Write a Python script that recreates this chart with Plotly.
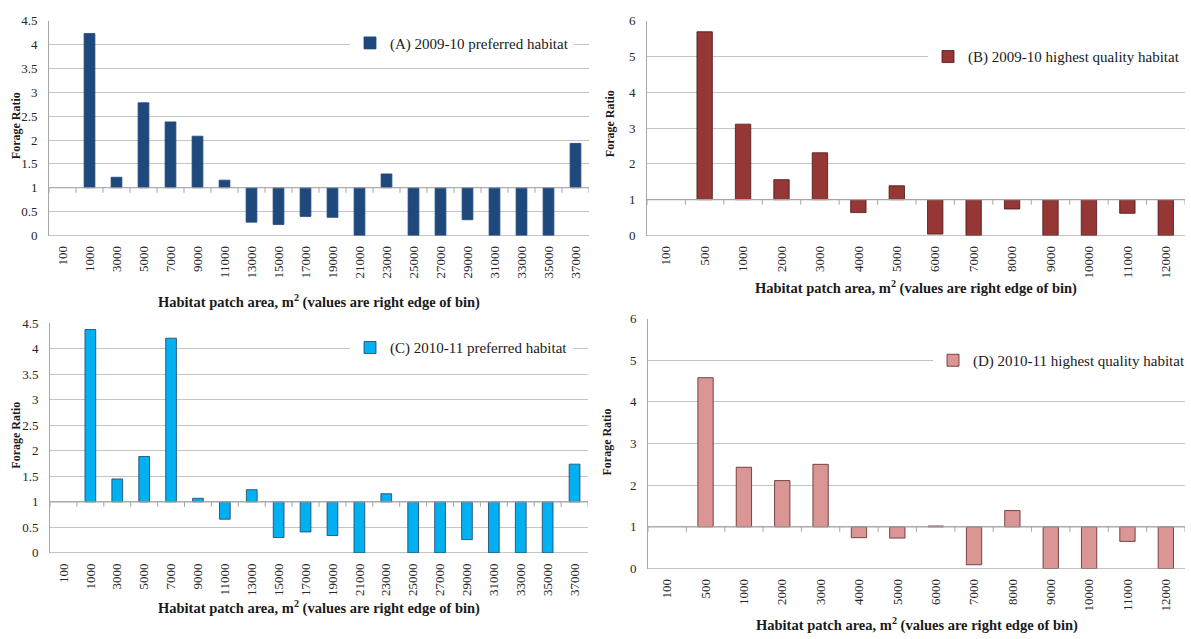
import plotly.graph_objects as go

# Bin labels (right edge of each patch-area bin, m^2)
bins_pref = ["100", "1000", "3000", "5000", "7000", "9000", "11000", "13000", "15000",
             "17000", "19000", "21000", "23000", "25000", "27000", "29000", "31000",
             "33000", "35000", "37000"]
bins_best = ["100", "500", "1000", "2000", "3000", "4000", "5000", "6000", "7000",
             "8000", "9000", "10000", "11000", "12000"]

# Forage ratios per bin (None = no data in bin)
ratio_a = [None, 4.23, 1.22, 2.78, 2.38, 2.08, 1.16, 0.28, 0.23, 0.40, 0.38, 0.0,
           1.29, 0.0, 0.0, 0.33, 0.0, 0.0, 0.0, 1.93]
ratio_b = [None, 5.69, 3.11, 1.56, 2.31, 0.64, 1.39, 0.04, 0.0, 0.74, 0.0, 0.0, 0.62, 0.0]
ratio_c = [None, 4.38, 1.45, 1.89, 4.21, 1.07, 0.66, 1.24, 0.30, 0.41, 0.34, 0.0,
           1.16, 0.0, 0.0, 0.26, 0.0, 0.0, 0.0, 1.74]
ratio_d = [None, 4.58, 2.43, 2.11, 2.50, 0.74, 0.73, 1.02, 0.09, 1.39, 0.0, 0.0, 0.65, 0.0]

W, H = 1191, 639
BASE = 1.0  # forage ratio of 1 = use in proportion to availability
FONT = "Liberation Serif, Times New Roman, serif"
GRID = "#C4C4C4"


def px_x(p):
    return p / W


def px_y(p):
    return 1 - p / H


panels = [
    # name, bins, values, fill, outline, x-domain px, y-domain px (bottom, top), ymax, dtick,
    # legend (left px, center px), x-title y px, y-title (x px, y px)
    dict(name="(A) 2009-10 preferred habitat", bins=bins_pref, vals=ratio_a,
         fill="#1F497D", edge="#1F497D", xd=(49, 589), yd=(234, 14), ymax=4.5, dt=0.5,
         leg=(350, 37), xt=302, yt=(16, 122)),
    dict(name="(B) 2009-10 highest quality habitat", bins=bins_best, vals=ratio_b,
         fill="#953735", edge="#4A1414", xd=(647, 1185), yd=(234, 14), ymax=6, dt=1,
         leg=(928, 51), xt=287, yt=(610, 120)),
    dict(name="(C) 2010-11 preferred habitat", bins=bins_pref, vals=ratio_c,
         fill="#00B0F0", edge="#1F3F66", xd=(50, 588), yd=(559, 324), ymax=4.5, dt=0.5,
         leg=(350, 349), xt=615, yt=(16, 439)),
    dict(name="(D) 2010-11 highest quality habitat", bins=bins_best, vals=ratio_d,
         fill="#D99694", edge="#5A2424", xd=(648, 1185), yd=(575, 319), ymax=6, dt=1,
         leg=(933, 362), xt=632, yt=(607, 446)),
]

fig = go.Figure()
shapes = []
annotations = []
layout = {}

for i, p in enumerate(panels, start=1):
    sfx = "" if i == 1 else str(i)
    xa, ya = "x" + sfx, "y" + sfx
    leg = "legend" + sfx
    n = len(p["bins"])

    fig.add_trace(go.Bar(
        x=p["bins"],
        y=[None if v is None else v - BASE for v in p["vals"]],
        base=BASE,
        width=0.4,
        name=p["name"],
        marker=dict(color=p["fill"], line=dict(color=p["edge"], width=0.8)),
        xaxis=xa, yaxis=ya, legend=leg, showlegend=True,
        customdata=p["vals"],
        hovertemplate="%{x}: %{customdata}<extra></extra>",
    ))

    layout["xaxis" + sfx] = dict(
        domain=[px_x(p["xd"][0]), px_x(p["xd"][1])], anchor=ya, type="category",
        range=[-0.5, n - 0.5], showgrid=False, showline=False, zeroline=False,
        tickangle=-90, ticks="", ticklabelstandoff=7,
        tickfont=dict(family=FONT, size=13, color="#262626"),
    )
    layout["yaxis" + sfx] = dict(
        domain=[px_y(p["yd"][0]), px_y(p["yd"][1])], anchor=xa,
        range=[0, p["ymax"]], dtick=p["dt"], tick0=0,
        showgrid=True, gridcolor=GRID, gridwidth=1.3,
        zeroline=True, zerolinecolor=GRID, zerolinewidth=1.3,
        showline=True, linecolor="#A6A6A6", linewidth=1,
        ticks="", ticklabelstandoff=8,
        tickfont=dict(family=FONT, size=13, color="#262626"),
    )
    layout[leg] = dict(
        x=px_x(p["leg"][0]), y=px_y(p["leg"][1]), xanchor="left", yanchor="middle",
        bgcolor="white", borderwidth=0,
        font=dict(family=FONT, size=15, color="#1A1A1A"),
        itemwidth=30,
    )

    # horizontal category axis crossing at ratio = 1
    shapes.append(dict(type="line", xref=xa + " domain", yref=ya, x0=0, x1=1,
                       y0=BASE, y1=BASE, line=dict(color="#A6A6A6", width=1.2)))
    # tick marks at category boundaries
    for k in range(n + 1):
        shapes.append(dict(type="line", xref=xa, yref=ya, ysizemode="pixel",
                           yanchor=BASE, x0=k - 0.5, x1=k - 0.5, y0=0, y1=-5,
                           line=dict(color="#A6A6A6", width=1)))

    annotations.append(dict(
        text="Habitat patch area, m<sup>2</sup> (values are right edge of bin)",
        xref="paper", yref="paper",
        x=px_x((p["xd"][0] + p["xd"][1]) / 2), y=px_y(p["xt"]),
        xanchor="center", yanchor="middle", showarrow=False,
        font=dict(family=FONT, size=14.5, color="#1A1A1A", weight="bold"),
    ))
    annotations.append(dict(
        text="Forage Ratio", xref="paper", yref="paper",
        x=px_x(p["yt"][0]), y=px_y(p["yt"][1]), textangle=-90,
        xanchor="center", yanchor="middle", showarrow=False,
        font=dict(family=FONT, size=12, color="#1A1A1A", weight="bold"),
    ))

fig.update_layout(
    width=W, height=H, margin=dict(l=0, r=0, t=0, b=0),
    paper_bgcolor="white", plot_bgcolor="white",
    bargap=0.6, shapes=shapes, annotations=annotations,
    font=dict(family=FONT),
    **layout,
)

fig.write_html("out.html")
